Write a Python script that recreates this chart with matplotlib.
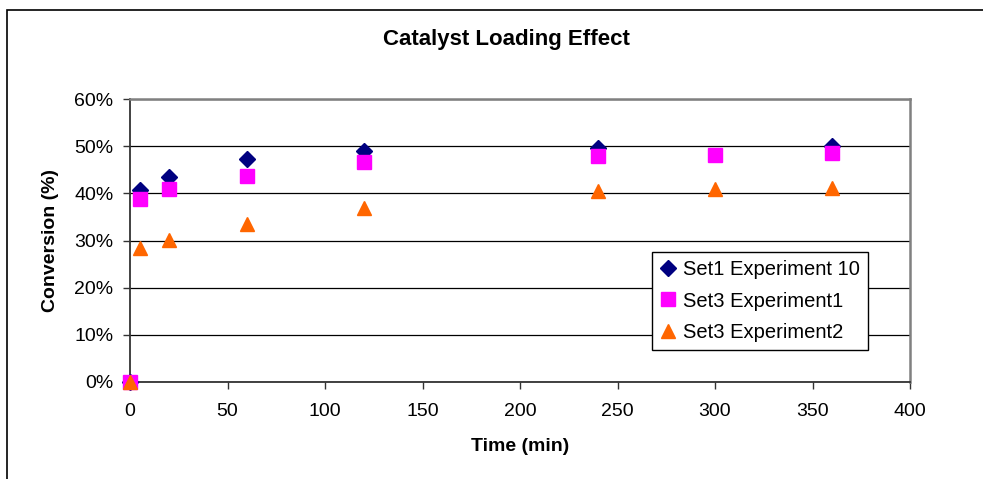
import matplotlib
matplotlib.use("Agg")
import matplotlib.pyplot as plt
from matplotlib.patches import Rectangle
from matplotlib.ticker import PercentFormatter

# data (conversion in %)
time_set1_exp10 = [0, 5, 20, 60, 120, 240, 360]
conv_set1_exp10 = [0, 40.7, 43.5, 47.3, 48.9, 49.7, 50.0]

time_set3_exp1 = [0, 5, 20, 60, 120, 240, 300, 360]
conv_set3_exp1 = [0, 38.8, 41.0, 43.7, 46.6, 47.95, 48.1, 48.6]

time_set3_exp2 = [0, 5, 20, 60, 120, 240, 300, 360]
conv_set3_exp2 = [0, 28.5, 30.2, 33.4, 36.9, 40.4, 41.0, 41.2]

x_ticks = [0, 50, 100, 150, 200, 250, 300, 350, 400]
y_ticks = [0, 10, 20, 30, 40, 50, 60]

plt.rcParams['font.family'] = ['Liberation Sans', 'DejaVu Sans']

W, H = 983, 479
fig = plt.figure(figsize=(W / 100, H / 100), dpi=100)
ax = fig.add_axes([130 / W, 1 - 382 / H, (910 - 130) / W, (382 - 99) / H])

# outer chart-area frame (only top and left edges visible)
fig.patches.append(Rectangle((7 / W, -0.1), 1.2, 1 - 10 / H + 0.1,
                             transform=fig.transFigure, fill=False,
                             edgecolor='black', linewidth=1.2))

ax.plot(time_set1_exp10, conv_set1_exp10, linestyle='none', marker='D',
        markersize=7.8, color='#000080', label='Set1 Experiment 10', clip_on=False, zorder=3)
ax.plot(time_set3_exp1, conv_set3_exp1, linestyle='none', marker='s',
        markersize=10, color='#FF00FF', label='Set3 Experiment1', clip_on=False, zorder=4)
ax.plot(time_set3_exp2, conv_set3_exp2, linestyle='none', marker='^',
        markersize=10.5, color='#FF6600', label='Set3 Experiment2', clip_on=False, zorder=5)

ax.set_xlim(0, 400)
ax.set_ylim(0, 60)
ax.set_xticks(x_ticks)
ax.set_yticks(y_ticks)
ax.yaxis.set_major_formatter(PercentFormatter(decimals=0))
ax.grid(axis='y', color='black', linewidth=0.9)
ax.set_axisbelow(True)

for side in ['top', 'right']:
    ax.spines[side].set_color('#808080')
    ax.spines[side].set_linewidth(1.8)
for side in ['left', 'bottom']:
    ax.spines[side].set_color('#333333')
    ax.spines[side].set_linewidth(1.3)

ax.tick_params(axis='both', direction='out', length=5, width=1, labelsize=14, color='#333333')
ax.tick_params(axis='y', pad=7)
ax.tick_params(axis='x', pad=10)

fig.text(506 / W, 1 - 40 / H, 'Catalyst Loading Effect',
         ha='center', va='center', fontsize=16, fontweight='bold')
ax.set_xlabel('Time (min)', fontsize=14, fontweight='bold', labelpad=13)
ax.set_ylabel('Conversion (%)', fontsize=14, fontweight='bold', labelpad=11)

leg = ax.legend(loc='upper left', bbox_to_anchor=((652 - 130) / 780, (382 - 252) / 283),
                frameon=True, fancybox=False, edgecolor='black', fontsize=14.5,
                borderpad=0.4, labelspacing=0.62, handlelength=0.8, handletextpad=0.35,
                borderaxespad=0)
leg.get_frame().set_linewidth(1)
leg.get_frame().set_alpha(1)

fig.savefig('out.png', dpi=100)
